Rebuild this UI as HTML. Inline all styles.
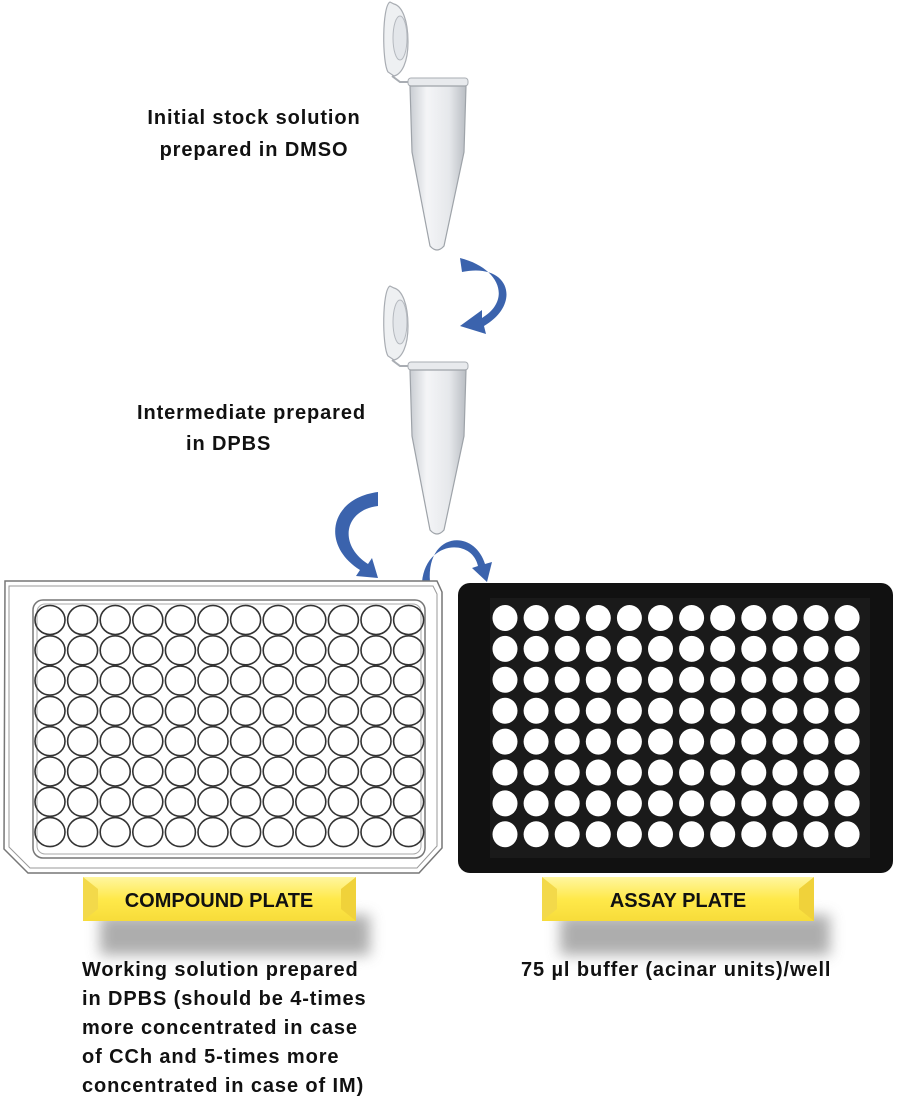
<!DOCTYPE html>
<html><head><meta charset="utf-8"><style>
html,body{margin:0;padding:0;background:#fff;}
svg{display:block;}
text{font-family:"Liberation Sans",sans-serif;font-weight:bold;fill:#111;}
.t{font-size:20px;letter-spacing:0.9px;}
</style></head><body>
<svg width="897" height="1112" viewBox="0 0 897 1112" xmlns="http://www.w3.org/2000/svg">
<defs>
<linearGradient id="tube" x1="0" x2="1">
<stop offset="0" stop-color="#c9cdd2"/><stop offset="0.3" stop-color="#f4f5f7"/><stop offset="0.7" stop-color="#e6e8eb"/><stop offset="1" stop-color="#b9bdc3"/>
</linearGradient>
<linearGradient id="yel" x1="0" y1="0" x2="0" y2="1">
<stop offset="0" stop-color="#fff6a0"/><stop offset="0.5" stop-color="#ffe94a"/><stop offset="1" stop-color="#f7dc3a"/>
</linearGradient>
<filter id="blur" x="-20%" y="-50%" width="140%" height="200%"><feGaussianBlur stdDeviation="7"/></filter>
<g id="tb">
<path d="M8,0 C0,4 0,60 6,70 L12,74 C20,72 26,60 26,40 C26,18 20,4 12,2 Z" fill="#eef0f2" stroke="#a9adb3" stroke-width="1.2"/>
<ellipse cx="18" cy="36" rx="7" ry="22" fill="#e3e6ea" stroke="#b5b9bf"/>
<path d="M10,74 L18,80 L28,80" fill="none" stroke="#a9adb3" stroke-width="2"/>
<rect x="26" y="76" width="60" height="8" rx="3" fill="#e8eaed" stroke="#a9adb3"/>
<path d="M28,84 L84,84 L82,150 L62,244 Q55,252 48,244 L30,150 Z" fill="url(#tube)" stroke="#9ea3a9" stroke-width="1.2"/>
</g>
</defs>

<use href="#tb" x="382" y="2"/>
<use href="#tb" x="382" y="286"/>

<text class="t" x="254" y="124" text-anchor="middle">Initial stock solution</text>
<text class="t" x="254" y="156" text-anchor="middle">prepared in DMSO</text>
<text class="t" x="137" y="419">Intermediate prepared</text>
<text class="t" x="186" y="450">in DPBS</text>

<g fill="#3b63ad">
<path d="M460,258 C500,268 512,300 482,318 L482,310 L460,326 L486,334 L484,326 C522,304 510,262 462,272 Z"/>
<path d="M378,492 C330,498 320,545 360,570 L356,576 L378,578 L372,558 L368,564 C338,545 344,510 378,506 Z"/>
<path d="M422,582 C426,540 472,538 478,566 L472,568 L487,582 L492,562 L485,564 C474,528 426,532 430,582 Z"/>
</g>

<path d="M5,581 L437,581 L442,592 L442,848 L419,873 L28,873 L4,849 Z" fill="#fff" stroke="#777" stroke-width="1.5"/>
<path d="M9,586 L433,586 L437,594 L437,846 L417,868 L30,868 L9,847 Z" fill="none" stroke="#999" stroke-width="1"/>
<rect x="33" y="600" width="392" height="258" rx="10" fill="none" stroke="#777" stroke-width="1.5"/>
<rect x="37" y="604" width="384" height="250" rx="8" fill="none" stroke="#aaa" stroke-width="1"/>
<g fill="none" stroke="#333" stroke-width="1.6" id="cw"></g>

<rect x="458" y="583" width="435" height="290" rx="12" fill="#111"/>
<rect x="490" y="598" width="380" height="260" fill="#1a1a1a"/>

<rect x="100" y="915" width="270" height="40" fill="#999" filter="url(#blur)" opacity="0.8"/>
<rect x="560" y="915" width="270" height="40" fill="#999" filter="url(#blur)" opacity="0.8"/>
<rect x="83" y="877" width="273" height="44" fill="url(#yel)"/>
<path d="M83,877 L98,889 L98,909 L83,921 Z" fill="#f3d94a"/>
<path d="M356,877 L341,889 L341,909 L356,921 Z" fill="#f0d23a"/>
<rect x="542" y="877" width="272" height="44" fill="url(#yel)"/>
<path d="M542,877 L557,889 L557,909 L542,921 Z" fill="#f3d94a"/>
<path d="M814,877 L799,889 L799,909 L814,921 Z" fill="#f0d23a"/>
<text x="219" y="907" font-size="20" text-anchor="middle">COMPOUND PLATE</text>
<text x="678" y="907" font-size="20" text-anchor="middle">ASSAY PLATE</text>

<text class="t">
<tspan x="82" y="976">Working solution prepared</tspan>
<tspan x="82" y="1005">in DPBS (should be 4-times</tspan>
<tspan x="82" y="1034">more concentrated in case</tspan>
<tspan x="82" y="1063">of CCh and 5-times more</tspan>
<tspan x="82" y="1092">concentrated in case of IM)</tspan>
</text>
<text class="t" x="521" y="976">75 µl buffer (acinar units)/well</text>

<g id="aw" fill="#fff"></g>
<script>
var ns="http://www.w3.org/2000/svg",cw=document.getElementById("cw"),aw=document.getElementById("aw");
for(var r=0;r<8;r++)for(var c=0;c<12;c++){
var e=document.createElementNS(ns,"ellipse");e.setAttribute("cx",50+c*32.6);e.setAttribute("cy",620+r*30.3);e.setAttribute("rx",15);e.setAttribute("ry",14.5);cw.appendChild(e);
var f=document.createElementNS(ns,"ellipse");f.setAttribute("cx",505+c*31.1);f.setAttribute("cy",618+r*30.9);f.setAttribute("rx",12.5);f.setAttribute("ry",13);aw.appendChild(f);}
</script>
</svg>
</body></html>
